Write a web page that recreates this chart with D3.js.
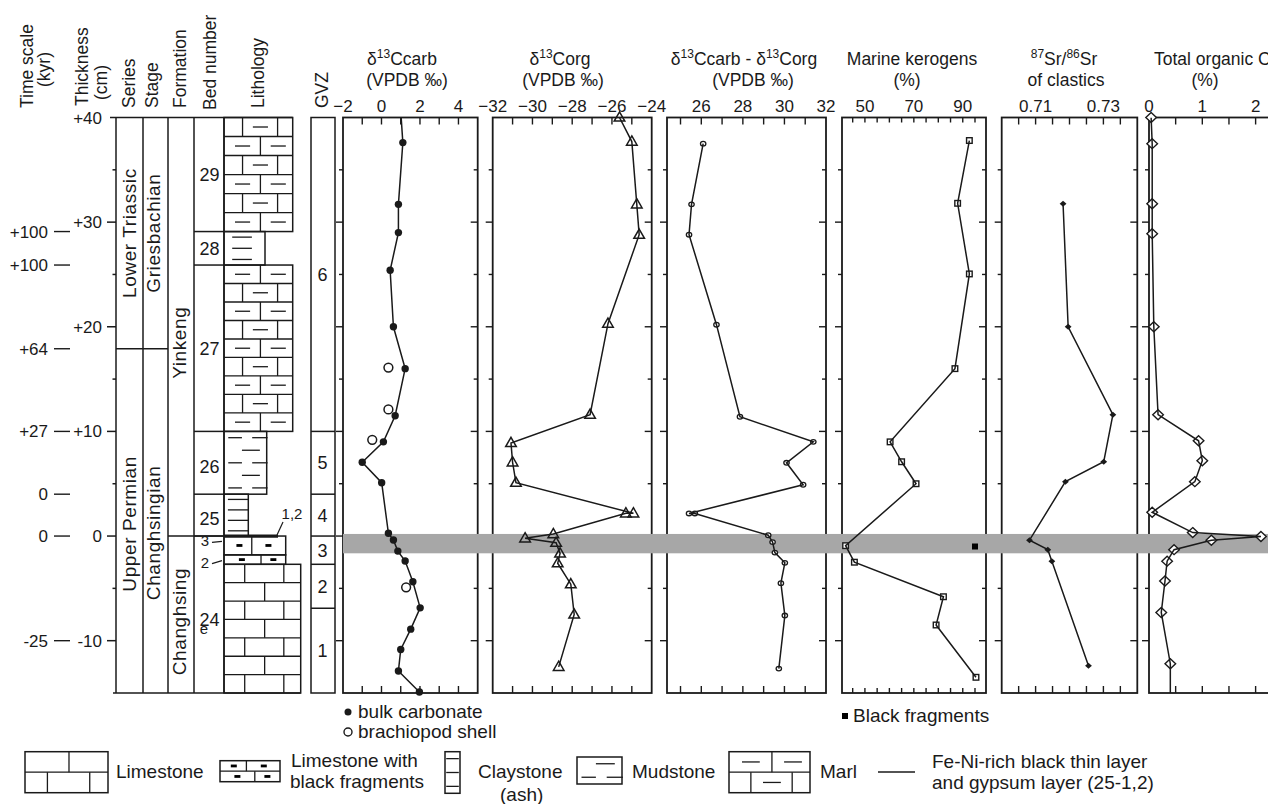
<!DOCTYPE html>
<html lang="en">
<head>
<meta charset="utf-8">
<title>Meishan section profiles</title>
<script src="https://d3js.org/d3.v7.min.js"></script>
<style>
  body { margin: 0; background: #fff; }
  svg { width: 1268px; height: 804px; display: block;
        font-family: "Liberation Sans", Arial, Helvetica, sans-serif; }
</style>
</head>
<body>
<svg></svg>
<script>
// ---------- data (depth in cm) ----------
const carbDepth  = [42, 37.6, 31.7, 29.0, 25.4, 20.0, 16.0, 11.5, 9.0, 7.05, 5.1, 0.26, -0.38, -1.44, -2.39, -4.37, -6.86, -8.9, -10.84, -12.9, -14.9];
const carbValue  = [0.95, 1.11, 0.88, 0.88, 0.45, 0.62, 1.23, 0.71, 0.10, -1.0, 0.01, 0.36, 0.62, 0.85, 1.23, 1.63, 2.01, 1.52, 1.0, 0.88, 1.97];
const brachDepth = [16.1, 12.1, 9.2, -4.9];
const brachValue = [0.36, 0.36, -0.48, 1.28];

const orgDepth = [40.0, 37.7, 31.7, 28.8, 20.3, 11.6, 8.9, 7.05, 5.1, 2.17, 2.17, 0.19, -0.22, -0.64, -1.66, -2.6, -4.6, -7.5, -12.5];
const orgValue = [-25.62, -25.0, -24.75, -24.63, -26.2, -27.1, -31.08, -31.0, -30.83, -24.92, -25.3, -28.95, -30.37, -28.81, -28.61, -28.73, -28.07, -27.9, -28.68];

const deltaDepth = [37.5, 31.7, 28.8, 20.2, 11.4, 9.0, 7.0, 4.9, 2.16, 2.16, 0.08, -0.58, -1.58, -2.56, -4.5, -7.6, -12.67];
const deltaValue = [26.09, 25.53, 25.41, 26.73, 27.86, 31.39, 30.1, 30.9, 25.41, 25.69, 29.22, 29.43, 29.54, 30.02, 29.83, 30.02, 29.73];

const kerDepth = [37.8, 31.8, 25.05, 16.0, 9.0, 7.1, 5.0, -0.92, -2.5, -5.8, -8.5, -13.5];
const kerValue = [92.7, 87.9, 92.7, 86.8, 60.3, 65.0, 70.9, 42.1, 45.7, 82.1, 79.1, 95.4];
const fragDepth = [-1.0];
const fragValue = [95.0];

const srDepth = [31.75, 20.0, 11.6, 7.1, 5.2, -0.4, -1.3, -2.4, -12.4];
const srValue = [0.7181, 0.7196, 0.7328, 0.7301, 0.7188, 0.7082, 0.7136, 0.7148, 0.7256];

const tocDepth = [40, 37.5, 31.75, 28.9, 20.0, 11.6, 9.1, 7.2, 5.2, 2.27, 0.33, -0.04, -0.4, -1.3, -2.4, -4.3, -7.3, -12.2, -17];
const tocValue = [0.04, 0.06, 0.06, 0.06, 0.09, 0.17, 0.93, 1.0, 0.86, 0.06, 0.82, 2.1, 1.17, 0.47, 0.34, 0.30, 0.23, 0.40, 0.40];

// stratigraphy
const bedNumbers = ["29", "28", "27", "26", "25", "3", "2", "24"];
const bedTops    = [40, 29.1, 25.9, 10, 4, 0, -1.8, -2.7];
const bedBases   = [29.1, 25.9, 10, 4, 0, -1.8, -2.7, -15];
const bedLith    = ["marl", "claystone", "marl", "mudstone", "claystone", "limeBlack", "limeBlack", "limestone"];

const gvzNames = ["6", "5", "4", "3", "2", "1"];
const gvzTops  = [40, 10, 4, 0, -2.7, -6.9];
const gvzBases = [10, 4, 0, -2.7, -6.9, -15];

const seriesNames = ["Lower Triassic", "Upper Permian"];
const stageNames  = ["Griesbachian", "Changhsingian"];
const stageBounds = [40, 17.9, -15];
const formationNames  = ["Yinkeng", "Changhsing"];
const formationBounds = [40, 0, -15];

const thickTicks = [40, 30, 20, 10, 0, -10];
const timeLabels = ["+100", "+100", "+64", "+27", "0", "0", "-25"];
const timeDepths = [29.1, 25.9, 17.9, 10, 4, 0, -10];
const bandDepths = [0.2, -1.65];

const carbTicks = [-1, 0, 1, 2, 3, 4],          carbLabels = [-2, 0, 2, 4];
const orgTicks  = [-31, -30, -29, -28, -27, -26, -25], orgLabels = [-32, -30, -28, -26, -24];
const deltaTicks = [25, 26, 27, 28, 29, 30, 31], deltaLabels = [26, 28, 30, 32];
const kerTicks = [45, 50, 55, 60, 65, 70, 75, 80, 85, 90, 95], kerLabels = [50, 70, 90];
const srTicks = [0.705, 0.71, 0.715, 0.72, 0.725, 0.73, 0.735], srLabels = [0.71, 0.73];
const tocTicks = [0.5, 1, 1.5, 2, 2.5], tocLabels = [0, 1, 2];

// ---------- layout ----------
const svg = d3.select("svg");
const ink = "#1a1a1a";
const y = d3.scaleLinear().domain([40, -15]).range([117.5, 693]);
const yTop = y(40), yBot = y(-15);

const panels = [
  {id: "carb", x0: 343, x1: 477.7, domain: [-2, 5], ticks: carbTicks, labels: carbLabels, fmt: d3.format("d"),
   title: ["δ^13Ccarb", "(VPDB ‰)"], tx: [402, 407]},
  {id: "org", x0: 492.7, x1: 651.7, domain: [-32, -24], ticks: orgTicks, labels: orgLabels, fmt: d3.format("d"),
   title: ["δ^13Corg", "(VPDB ‰)"], tx: [560, 563]},
  {id: "delta", x0: 667, x1: 826, domain: [24.35, 32], ticks: deltaTicks, labels: deltaLabels, fmt: d3.format("d"),
   title: ["δ^13Ccarb - δ^13Corg", "(VPDB ‰)"], tx: [744, 753]},
  {id: "ker", x0: 842, x1: 986, domain: [40.63, 99.5], ticks: kerTicks, labels: kerLabels, fmt: d3.format("d"),
   title: ["Marine kerogens", "(%)"], tx: [912, 907], tickLen: 5},
  {id: "sr", x0: 1001.7, x1: 1137.3, domain: [0.70, 0.74], ticks: srTicks, labels: srLabels, fmt: d3.format(".2f"),
   title: ["^87Sr/^86Sr", "of clastics"], tx: [1064, 1066]},
  {id: "toc", x0: 1149, x1: 1290, domain: [0, 2.645], ticks: tocTicks, labels: tocLabels, fmt: d3.format("d"),
   title: ["Total organic C", "(%)"], tx: [1154, 1205], startTitle: true}
];
panels.forEach(p => { p.x = d3.scaleLinear().domain(p.domain).range([p.x0, p.x1]); });
const P = {};
panels.forEach(p => { P[p.id] = p; });

function rich(sel, str) {
  const parts = str.split(/\^(\d+)/);
  let raised = false;
  parts.forEach((part, i) => {
    if (part === "") return;
    const t = sel.append("tspan").text(part);
    if (i % 2 === 1) { t.attr("font-size", 12).attr("dy", raised ? 0 : -7); raised = true; }
    else { if (raised) t.attr("dy", 7); raised = false; }
  });
}

function hline(g, x1, x2, yy, w) {
  g.append("line").attr("x1", x1).attr("x2", x2).attr("y1", yy).attr("y2", yy)
    .attr("stroke", ink).attr("stroke-width", w || 1.5);
}
function vline(g, xx, y1, y2, w) {
  g.append("line").attr("x1", xx).attr("x2", xx).attr("y1", y1).attr("y2", y2)
    .attr("stroke", ink).attr("stroke-width", w || 1.5);
}
function rtext(g, txt, bx, by, size, anchor) {
  return g.append("text").attr("transform", `translate(${bx},${by}) rotate(-90)`)
    .attr("text-anchor", anchor || "start").attr("font-size", size).attr("fill", ink).text(txt);
}

// ---------- column headers ----------
const head = svg.append("g");
rtext(head, "Time scale", 33, 108, 17.5);
rtext(head, "(kyr)", 50, 87, 17.5);
rtext(head, "Thickness", 88, 106, 17.5);
rtext(head, "(cm)", 107, 100, 17.5);
rtext(head, "Series", 135, 108, 17.5);
rtext(head, "Stage", 158, 108, 17.5);
rtext(head, "Formation", 186, 108, 17.5);
rtext(head, "Bed number", 216, 110, 17.5);
rtext(head, "Lithology", 264, 108, 17.5);
rtext(head, "GVZ", 328, 108, 17.5);

// ---------- time scale & thickness axis ----------
const axisG = svg.append("g");
timeDepths.forEach((d, i) => {
  hline(axisG, 54, 70, y(d), 1.4);
  axisG.append("text").attr("x", 48).attr("y", y(d) + 6).attr("text-anchor", "end")
    .attr("font-size", 17).attr("fill", ink).text(timeLabels[i]);
});
vline(axisG, 116, yTop, yBot);
d3.range(35, -15, -5).forEach(d => {
  const major = d % 10 === 0;
  hline(axisG, major ? 107 : 112.5, 116, y(d));
});
thickTicks.forEach(d => {
  axisG.append("text").attr("x", 102).attr("y", y(d) + 6).attr("text-anchor", "end")
    .attr("font-size", 17).attr("fill", ink).text(d > 0 ? "+" + d : d);
});

// ---------- stratigraphic columns ----------
const strat = svg.append("g");
hline(strat, 110, 292.7, yTop);
hline(strat, 113, 300.7, yBot);
[143, 168, 194, 224].forEach(xx => vline(strat, xx, yTop, yBot));
hline(strat, 116, 168, y(stageBounds[1]));
hline(strat, 168, 224, y(formationBounds[1]));

const nameNudge = {"Upper Permian": 3, "Changhsingian": 12, "Yinkeng": 16, "Changhsing": 7};
function columnNames(names, bounds, bx) {
  names.forEach((n, i) => {
    const cy = (y(bounds[i]) + y(bounds[i + 1])) / 2 + (nameNudge[n] || 0);
    rtext(strat, n, bx, cy, 19, "middle").attr("letter-spacing", 0.6);
  });
}
columnNames(seriesNames, stageBounds, 136);
columnNames(stageNames, stageBounds, 160);
columnNames(formationNames, formationBounds, 186);

// lithology
const lithRight = {"29": 292.7, "28": 265, "27": 292.7, "26": 266.7, "25": 248.3, "3": 285.7, "2": 285.7, "24": 300.7};
const lithFirstRow = {"29": "double", "27": "single", "24": "double"};
const litho = svg.append("g").attr("stroke", ink).attr("fill", "none");

function brick(g, x0, x1, y0, y1, nRows, first, marl) {
  const w = x1 - x0, h = (y1 - y0) / nRows;
  for (let i = 0; i < nRows; i++) {
    const ya = y0 + i * h, yb = ya + h;
    const dbl = (i % 2 === 0) === (first === "double");
    if (i > 0) hline(g, x0, x1, ya, 1.3);
    const divs = dbl ? [0.27, 0.78] : [0.53];
    divs.forEach(f => vline(g, x0 + f * w, ya, yb, 1.3));
    if (marl) {
      const dashes = dbl ? [0.53] : [0.27, 0.79];
      dashes.forEach(f => hline(g, x0 + f * w - 0.11 * w, x0 + f * w + 0.11 * w, (ya + yb) / 2, 1.3));
    }
  }
}
function clayLines(g, x0, x1, y0, y1, n, fa, fb) {
  const w = x1 - x0;
  for (let i = 0; i < n; i++) {
    const yy = y0 + (i + 0.5) / n * (y1 - y0);
    hline(g, x0 + fa * w, x0 + fb * w, yy, 1.3);
  }
}
function mudDashes(g, x0, x1, y0, y1, n, firstTwo) {
  const w = x1 - x0;
  for (let i = 0; i < n; i++) {
    const yy = y0 + (i + 0.5) / n * (y1 - y0);
    const two = (i % 2 === 0) === firstTwo;
    if (two) {
      hline(g, x0 + 0.1 * w, x0 + 0.42 * w, yy, 1.3);
      hline(g, x0 + 0.66 * w, x0 + 1.02 * w, yy, 1.3);
    } else {
      hline(g, x0 + 0.42 * w, x0 + 0.84 * w, yy, 1.3);
    }
  }
}
function blackBits(g, x0, x1, y0, y1, div, bits) {
  const w = x1 - x0;
  vline(g, x0 + div * w, y0, y1, 1.3);
  bits.forEach(f => {
    g.append("line").attr("x1", x0 + f * w - 3).attr("x2", x0 + f * w + 3)
      .attr("y1", (y0 + y1) / 2).attr("y2", (y0 + y1) / 2).attr("stroke", "#000").attr("stroke-width", 2.8);
  });
}

bedNumbers.forEach((b, i) => {
  const x0 = 224, x1 = lithRight[b], y0 = y(bedTops[i]), y1 = y(bedBases[i]);
  litho.append("rect").attr("x", x0).attr("y", y0).attr("width", x1 - x0).attr("height", y1 - y0)
    .attr("stroke-width", 1.5);
  const lith = bedLith[i];
  if (lith === "marl") brick(litho, x0, x1, y0, y1, Math.round((y1 - y0) / 19), lithFirstRow[b], true);
  if (lith === "limestone") brick(litho, x0, x1, y0, y1, Math.round((y1 - y0) / 19), lithFirstRow[b], false);
  if (lith === "claystone") {
    if (b === "28") clayLines(litho, x0, x1, y0, y1, 3, 0.2, 0.68);
    else clayLines(litho, x0, x1, y0, y1, 4, 0.16, 1.0);
  }
  if (lith === "mudstone") mudDashes(litho, x0, x1, y0, y1, 5, true);
  if (lith === "limeBlack") {
    if (b === "3") blackBits(litho, x0, x1, y0, y1, 0.45, [0.25, 0.72]);
    else blackBits(litho, x0, x1, y0, y1, 0.6, [0.29, 0.8]);
  }
});
// bed boundaries in bed-number column
bedTops.slice(1, 6).forEach(d => hline(strat, 194, 224, y(d)));
// Fe-Ni-rich thin layer at base of bed 25
hline(strat, 224, 278, y(0), 3.2);

// bed numbers
const bedNudge = {"26": 4, "25": 3, "3": -4, "2": 3, "24": -9};
bedNumbers.forEach((b, i) => {
  const cy = (y(bedTops[i]) + y(bedBases[i])) / 2 + (bedNudge[b] || 0);
  const small = (b === "3" || b === "2");
  strat.append("text").attr("x", small ? 209 : 209.5).attr("y", cy + (small ? 5 : 6.5))
    .attr("text-anchor", small ? "end" : "middle").attr("font-size", small ? 15 : 18).attr("fill", ink).text(b);
  if (small) {
    strat.append("line").attr("x1", 212).attr("x2", 222).attr("y1", cy + 1).attr("y2", cy - (b === "2" ? 2 : 0))
      .attr("stroke", ink).attr("stroke-width", 1.2);
  }
});
strat.append("text").attr("x", 204).attr("y", 634).attr("text-anchor", "middle")
  .attr("font-size", 15).attr("fill", ink).text("e");
strat.append("text").attr("x", 292).attr("y", 519).attr("text-anchor", "middle")
  .attr("font-size", 15).attr("fill", ink).text("1,2");
strat.append("line").attr("x1", 283).attr("y1", 522).attr("x2", 277).attr("y2", 535)
  .attr("stroke", ink).attr("stroke-width", 1.2);

// GVZ column
const gvz = svg.append("g");
gvz.append("rect").attr("x", 311).attr("y", yTop).attr("width", 24).attr("height", yBot - yTop)
  .attr("fill", "none").attr("stroke", ink).attr("stroke-width", 1.5);
gvzNames.forEach((n, i) => {
  if (i > 0) hline(gvz, 311, 335, y(gvzTops[i]));
  gvz.append("text").attr("x", 322.5).attr("y", (y(gvzTops[i]) + y(gvzBases[i])) / 2 + 6.5)
    .attr("text-anchor", "middle").attr("font-size", 18).attr("fill", ink).text(n);
});

// ---------- data panels: frames, ticks, titles ----------
const depthTicks = d3.range(35, -15, -5);
panels.forEach(p => {
  const g = svg.append("g");
  g.append("rect").attr("x", p.x0).attr("y", yTop).attr("width", p.x1 - p.x0).attr("height", yBot - yTop)
    .attr("fill", "none").attr("stroke", ink).attr("stroke-width", 1.8);
  const tl = p.tickLen || 7;
  p.ticks.forEach(v => {
    vline(g, p.x(v), yTop, yTop + tl, 1.4);
    vline(g, p.x(v), yBot - tl, yBot, 1.4);
  });
  depthTicks.forEach(d => {
    const len = d % 10 === 0 ? 7 : 4;
    hline(g, p.x0 - len, p.x0, y(d), 1.4);
    hline(g, p.x1 - len, p.x1, y(d), 1.4);
  });
  p.labels.forEach(v => {
    g.append("text").attr("x", p.x(v)).attr("y", 112).attr("text-anchor", "middle")
      .attr("font-size", 17).attr("fill", ink).text(p.fmt(v));
  });
  p.title.forEach((t, i) => {
    const txt = g.append("text").attr("x", p.tx[i]).attr("y", i === 0 ? 65 : 86)
      .attr("text-anchor", (p.startTitle && i === 0) ? "start" : "middle")
      .attr("font-size", 17.5).attr("fill", ink);
    rich(txt, t);
  });
  svg.append("clipPath").attr("id", "clip-" + p.id).append("rect")
    .attr("x", p.x0).attr("y", yTop).attr("width", p.x1 - p.x0).attr("height", yBot - yTop);
});

// grey event band
svg.append("rect").attr("x", 343).attr("y", y(bandDepths[0])).attr("width", 1268 - 343)
  .attr("height", y(bandDepths[1]) - y(bandDepths[0])).attr("fill", "#a7a7a7");

// ---------- series ----------
function series(p, depth, value) {
  const pts = depth.map((d, i) => [p.x(value[i]), y(d)]);
  svg.append("path").attr("d", d3.line()(pts)).attr("fill", "none").attr("stroke", ink)
    .attr("stroke-width", 1.5).attr("clip-path", `url(#clip-${p.id})`);
  return depth.map((d, i) => ({cx: p.x(value[i]), cy: y(d), d}))
    .filter(o => o.d <= 40 && o.d >= -15);
}
const mk = svg.append("g");

series(P.carb, carbDepth, carbValue).forEach(o =>
  mk.append("circle").attr("cx", o.cx).attr("cy", o.cy).attr("r", 3.7).attr("fill", ink));
brachDepth.forEach((d, i) =>
  mk.append("circle").attr("cx", P.carb.x(brachValue[i])).attr("cy", y(d)).attr("r", 4.4)
    .attr("fill", "#fff").attr("stroke", ink).attr("stroke-width", 1.5));

series(P.org, orgDepth, orgValue).forEach(o =>
  mk.append("path").attr("d", `M${o.cx},${o.cy - 5.6}L${o.cx + 5.3},${o.cy + 3.6}L${o.cx - 5.3},${o.cy + 3.6}Z`)
    .attr("fill", "none").attr("stroke", ink).attr("stroke-width", 1.5));

series(P.delta, deltaDepth, deltaValue).forEach(o =>
  mk.append("ellipse").attr("cx", o.cx).attr("cy", o.cy).attr("rx", 2.7).attr("ry", 2.3)
    .attr("fill", "#fff").attr("stroke", ink).attr("stroke-width", 1.3));

series(P.ker, kerDepth, kerValue).forEach(o =>
  mk.append("rect").attr("x", o.cx - 2.8).attr("y", o.cy - 2.8).attr("width", 5.6).attr("height", 5.6)
    .attr("fill", "#fff").attr("stroke", ink).attr("stroke-width", 1.4));
fragDepth.forEach((d, i) =>
  mk.append("rect").attr("x", P.ker.x(fragValue[i]) - 3).attr("y", y(d) - 3).attr("width", 6).attr("height", 6)
    .attr("fill", "#000"));

series(P.sr, srDepth, srValue).forEach(o =>
  mk.append("path").attr("d", `M${o.cx},${o.cy - 3}L${o.cx + 3.4},${o.cy}L${o.cx},${o.cy + 3}L${o.cx - 3.4},${o.cy}Z`)
    .attr("fill", ink));

series(P.toc, tocDepth, tocValue).forEach(o =>
  mk.append("path").attr("d", `M${o.cx},${o.cy - 5}L${o.cx + 5.3},${o.cy}L${o.cx},${o.cy + 5}L${o.cx - 5.3},${o.cy}Z`)
    .attr("fill", "#fff").attr("stroke", ink).attr("stroke-width", 1.4));

// ---------- legend ----------
const lg = svg.append("g").attr("font-size", 19).attr("fill", ink);
lg.append("circle").attr("cx", 348).attr("cy", 712).attr("r", 3.5).attr("fill", ink);
lg.append("text").attr("x", 358).attr("y", 718).text("bulk carbonate");
lg.append("circle").attr("cx", 348).attr("cy", 732).attr("r", 4).attr("fill", "#fff").attr("stroke", ink).attr("stroke-width", 1.4);
lg.append("text").attr("x", 358).attr("y", 738).text("brachiopod shell");
lg.append("rect").attr("x", 842).attr("y", 713).attr("width", 6).attr("height", 6).attr("fill", "#000");
lg.append("text").attr("x", 853).attr("y", 722).text("Black fragments");

const sw = lg.append("g").attr("stroke", ink).attr("fill", "none");
function box(x0, y0, x1, y1) {
  sw.append("rect").attr("x", x0).attr("y", y0).attr("width", x1 - x0).attr("height", y1 - y0).attr("stroke-width", 1.5);
}
box(25, 751.7, 108, 792.7);
brick(sw, 25, 108, 751.7, 792.7, 2, "single", false);
lg.append("text").attr("x", 116).attr("y", 778.3).text("Limestone");

box(220, 760.7, 280, 781.7);
hline(sw, 220, 280, 771.2, 1.3);
blackBits(sw, 220, 280, 760.7, 771.2, 0.44, [0.23, 0.73]);
blackBits(sw, 220, 280, 771.2, 781.7, 0.58, [0.29, 0.79]);
lg.append("text").attr("x", 291).attr("y", 766.7).text("Limestone with");
lg.append("text").attr("x", 290).attr("y", 788.3).text("black fragments");

box(445, 751.7, 460, 793.3);
clayLines(sw, 445, 460, 751.7, 793.3, 3, 0.08, 0.92);
lg.append("text").attr("x", 478).attr("y", 778).text("Claystone");
lg.append("text").attr("x", 500).attr("y", 801).text("(ash)");

box(577, 757, 622, 784);
mudDashes(sw, 577, 622, 757, 784, 2, false);
lg.append("text").attr("x", 632).attr("y", 778).text("Mudstone");

box(729, 751.7, 810, 792.7);
brick(sw, 729, 810, 751.7, 792.7, 2, "single", true);
lg.append("text").attr("x", 820).attr("y", 778).text("Marl");

hline(sw, 878, 915, 772, 1.4);
lg.append("text").attr("x", 932).attr("y", 767.5).text("Fe-Ni-rich black thin layer");
lg.append("text").attr("x", 932).attr("y", 789).text("and gypsum layer (25-1,2)");
</script>
</body>
</html>
